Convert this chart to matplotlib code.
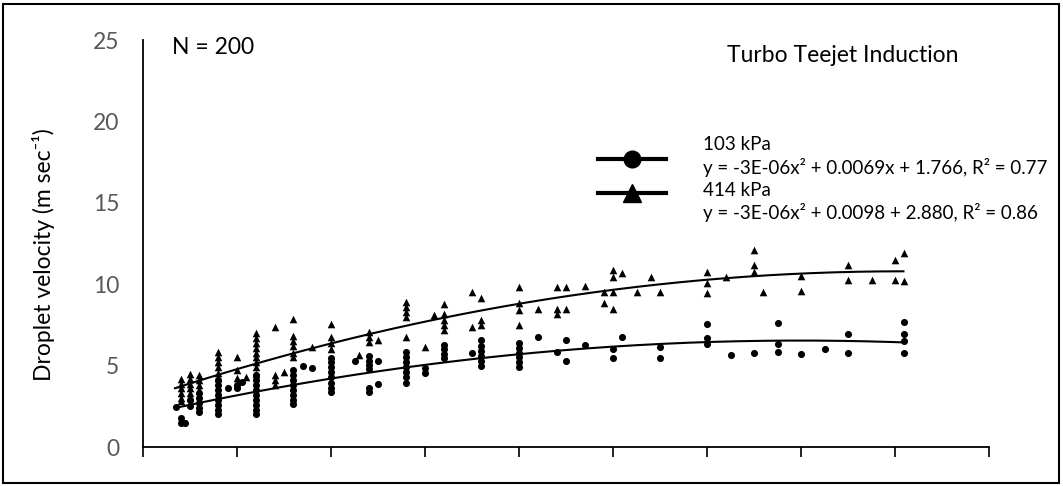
import matplotlib.pyplot as plt
import numpy as np
from matplotlib.lines import Line2D
from matplotlib.patches import Rectangle

plt.rcParams['font.family'] = ['Lato', 'DejaVu Sans']

# 414 kPa (triangles): x position, velocity
x_414 = [40]*6 + [50]*6 + [60]*4 + [80]*6 + [100]*3 + [110] + [120]*9 + [140]*4 + [150] \
    + [160]*6 + [180] + [200]*4 + [230] + [240]*3 + [250] + [280]*5 + [300] + [310] \
    + [320]*5 + [350]*2 + [360]*3 + [400]*4 + [420] + [440]*3 + [450]*2 + [470] \
    + [490]*2 + [500]*4 + [510] + [525] + [540] + [550] + [600]*3 + [620] + [650]*3 \
    + [660] + [700]*2 + [750]*2 + [775] + [800]*2 + [810]*2
y_414 = [4.2, 3.9, 3.6, 3.3, 3.0, 2.8,
         4.5, 4.2, 3.9, 3.6, 3.3, 3.1,
         4.4, 4.1, 3.8, 3.5,
         5.85, 5.5, 5.2, 4.9, 4.55, 4.25,
         5.55, 4.7, 4.25,
         4.3,
         7.0, 6.7, 6.4, 6.1, 5.8, 5.5, 5.2, 4.9, 4.5,
         7.4, 4.4, 4.1, 3.8,
         4.6,
         7.85, 6.8, 6.5, 6.2, 5.8, 5.5,
         6.15,
         7.55, 6.75, 6.4, 6.0,
         5.65,
         7.05, 6.75, 6.45,
         6.55,
         8.9, 8.6, 8.3, 8.0, 6.75,
         6.15,
         8.1,
         8.8, 8.2, 7.8, 7.5, 7.2,
         9.5, 7.35,
         9.15, 7.8, 7.5,
         9.8, 8.85, 8.4, 7.5,
         8.5,
         9.8, 8.5, 8.2,
         9.8, 8.5,
         9.9,
         9.5, 8.85,
         10.85, 10.45, 9.5, 8.5,
         10.7,
         9.5,
         10.45,
         9.55,
         10.75, 10.1, 9.45,
         10.45,
         12.1, 11.15, 10.75,
         9.5,
         10.5, 9.6,
         11.15, 10.25,
         10.25,
         11.5, 10.25,
         11.9, 10.2]

# 103 kPa (circles)
x_103 = [35] + [40]*2 + [45] + [50]*2 + [60]*5 + [80]*8 + [90] + [100]*2 + [105] \
    + [120]*9 + [160]*8 + [170] + [180] + [200]*8 + [225] + [240]*6 + [250]*2 \
    + [280]*7 + [300]*2 + [320]*4 + [350] + [360]*6 + [400]*6 + [420] + [440] \
    + [450]*2 + [470] + [500]*2 + [510] + [550]*2 + [600]*3 + [625] + [650] \
    + [675]*3 + [700] + [725] + [750]*2 + [810]*4
y_103 = [2.45,
         1.8, 1.5,
         1.5,
         2.9, 2.5,
         3.3, 3.0, 2.7, 2.4, 2.15,
         4.1, 3.8, 3.5, 3.2, 2.9, 2.6, 2.3, 2.0,
         3.6,
         3.8, 3.6,
         4.0,
         4.4, 4.1, 3.8, 3.5, 3.2, 2.9, 2.6, 2.3, 2.05,
         4.7, 4.4, 4.1, 3.8, 3.5, 3.2, 2.9, 2.65,
         5.0,
         4.85,
         5.45, 5.2, 4.9, 4.6, 4.3, 3.95, 3.6, 3.35,
         5.3,
         5.6, 5.3, 5.05, 4.8, 3.6, 3.35,
         5.3, 3.9,
         5.85, 5.5, 5.2, 4.9, 4.6, 4.3, 3.95,
         4.85, 4.55,
         6.25, 6.0, 5.7, 5.45,
         5.75,
         6.55, 6.2, 5.9, 5.6, 5.3, 5.0,
         6.4, 6.1, 5.8, 5.5, 5.2, 4.9,
         6.75,
         5.85,
         6.6, 5.3,
         6.25,
         6.05, 5.45,
         6.75,
         6.15, 5.45,
         7.55, 6.7, 6.3,
         5.65,
         5.75,
         7.6, 6.3, 5.85,
         5.7,
         6.0,
         6.95, 5.75,
         7.7, 6.95, 6.5, 5.8]

# trend lines
trend_x = [34, 135, 263, 401, 519, 668, 809]
trend_414 = [3.6, 5.4, 7.2, 8.8, 9.75, 10.65, 10.75]
trend_103 = [2.45, 3.5, 4.7, 5.75, 6.25, 6.55, 6.4]

labels = ['103 kPa', '414 kPa']
equations = ['y = -3E-06x² + 0.0069x + 1.766, R² = 0.77',
             'y = -3E-06x² + 0.0098 + 2.880, R² = 0.86']

W, H = 1063, 486
fig = plt.figure(figsize=(W / 100, H / 100), dpi=100)
ax = fig.add_axes([143 / W, 1 - 447 / H, 846 / W, 407 / H])

ax.scatter(x_103, y_103, marker='o', s=26, color='black', linewidths=0, zorder=3)
ax.scatter(x_414, y_414, marker='^', s=30, color='black', linewidths=0, zorder=3)

xs = np.linspace(trend_x[0], trend_x[-1], 200)
ax.plot(xs, np.polyval(np.polyfit(trend_x, trend_414, 2), xs), color='black', lw=1.5, zorder=4)
ax.plot(xs, np.polyval(np.polyfit(trend_x, trend_103, 2), xs), color='black', lw=1.5, zorder=4)

ax.set_xlim(0, 900)
ax.set_ylim(0, 25)
ax.set_xticks(np.arange(0, 901, 100))
ax.set_xticklabels([])
ax.set_yticks([0, 5, 10, 15, 20, 25])
ax.tick_params(axis='x', direction='out', length=7, width=1.2, color='black')
ax.tick_params(axis='y', length=0, labelsize=16.5, labelcolor='#595959', pad=17)
for s in ['top', 'right']:
    ax.spines[s].set_visible(False)
for s in ['left', 'bottom']:
    ax.spines[s].set_linewidth(1.3)
ax.set_ylabel('Droplet velocity (m sec⁻¹)', fontsize=16.5)
ax.yaxis.set_label_coords(-0.104, 0.472)

fig.text(172 / W, 1 - 48 / H, 'N = 200', fontsize=16.5, va='center', ha='left')
fig.text(843 / W, 1 - 56 / H, 'Turbo Teejet Induction', fontsize=16.5, va='center', ha='center')

# legend, drawn by hand
for i, mk in enumerate(['o', '^']):
    yl = 1 - (159 + 34 * i) / H
    fig.add_artist(Line2D([598 / W, 666 / W], [yl, yl], color='black', lw=3))
    fig.add_artist(Line2D([632 / W], [yl], color='black', marker=mk,
                          markersize=12 if mk == 'o' else 13, lw=0))
    fig.text(703 / W, 1 - (144 + 46 * i) / H, labels[i], fontsize=13.5, va='center', ha='left')
    fig.text(703 / W, 1 - (167 + 45 * i) / H, equations[i], fontsize=13.5, va='center', ha='left')

fig.add_artist(Rectangle((3 / W, 3 / H), 1 - 7 / W, 1 - 7 / H, transform=fig.transFigure,
                         fill=False, edgecolor='black', lw=1.5))

fig.savefig('out.png', dpi=100)
